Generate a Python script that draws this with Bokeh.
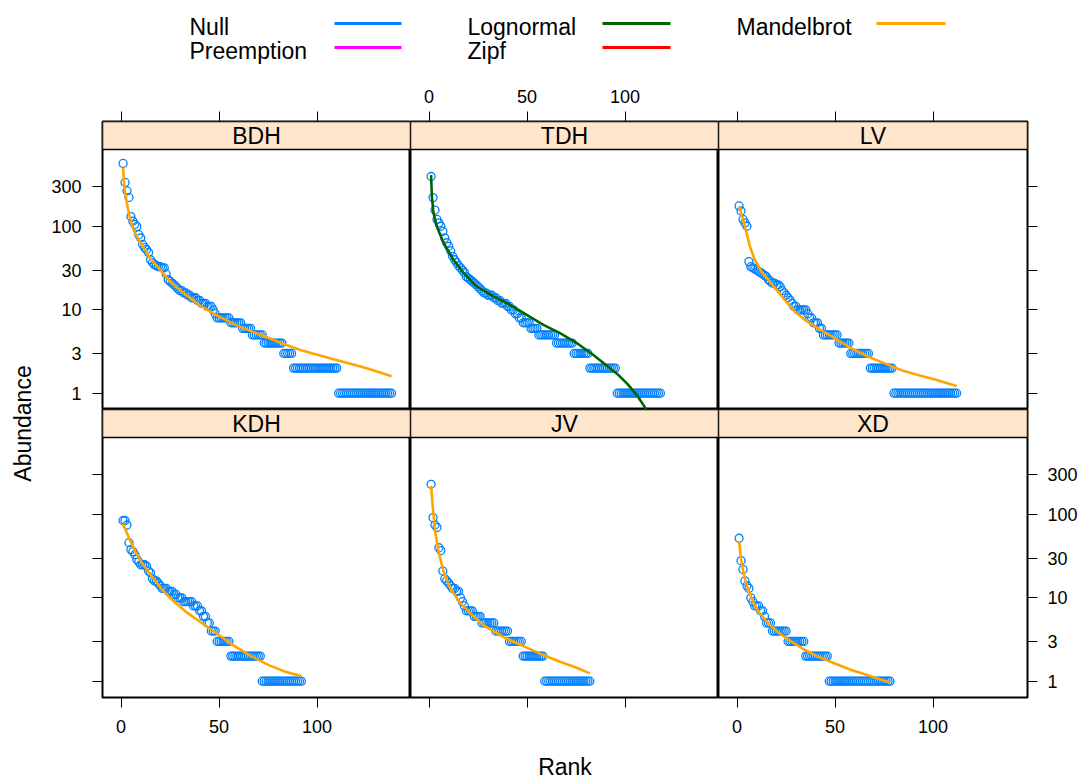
import numpy as np
from bokeh.plotting import figure
from bokeh.models import Range1d, LinearAxis, LogAxis, FixedTicker, BoxAnnotation, Label
from bokeh.layouts import row, column
from bokeh.embed import file_html
from bokeh.resources import INLINE
from bokeh.core.properties import value

# ---------------- data ----------------
panel_names = ["BDH", "TDH", "LV", "KDH", "JV", "XD"]
panel_best = ["Mandelbrot", "Lognormal", "Mandelbrot", "Mandelbrot", "Mandelbrot", "Mandelbrot"]

abund_BDH = [574, 339, 268, 224, 132, 116, 106, 100, 80, 73, 61, 56, 53, 49,
             40, 37, 35, 34, 33, 33, 32, 32,
             27, 23, 22, 21, 20, 19, 18, 17, 17, 16, 16, 15, 15, 14, 14, 14, 13, 13,
             12, 12, 12, 11, 11, 11, 10, 9,
             8, 8, 8, 8, 8, 8, 8, 7, 7, 7, 7, 7, 7, 6, 6, 6, 6, 6, 5, 5, 5, 5, 5, 5,
             4, 4, 4, 4, 4, 4, 4, 4, 4, 4, 3, 3, 3, 3, 3,
             2, 2, 2, 2, 2, 2, 2, 2, 2, 2, 2, 2, 2, 2, 2, 2, 2, 2, 2, 2, 2, 2, 2,
             1, 1, 1, 1, 1, 1, 1, 1, 1, 1, 1, 1, 1, 1, 1, 1, 1, 1, 1, 1, 1, 1, 1, 1,
             1, 1, 1, 1]
abund_TDH = [400, 223, 158, 122, 111, 101, 88, 73, 64, 58, 51, 44, 40, 37, 34, 32, 30, 28, 25, 24,
             23, 22, 21, 20, 19, 18, 17, 16, 16, 15, 15, 15, 14, 14, 13, 13, 12, 12, 12, 11, 11, 10, 10,
             9, 9, 8, 8, 7, 7, 7, 7, 6, 6, 6, 6,
             5, 5, 5, 5, 5, 5, 5, 5, 5, 4, 4, 4, 4, 4, 4, 4, 4, 4, 3, 3, 3, 3, 3, 3, 3, 3,
             2, 2, 2, 2, 2, 2, 2, 2, 2, 2, 2, 2, 2, 2,
             1, 1, 1, 1, 1, 1, 1, 1, 1, 1, 1, 1, 1, 1, 1, 1, 1, 1, 1, 1, 1, 1, 1]
abund_LV = [177, 154, 122, 111, 101,
            38, 33, 32, 31, 30, 29, 28, 27, 26, 25,
            23, 22, 21, 21, 20, 20, 19, 17, 16, 15, 14,
            13, 12, 11, 11, 10, 10, 10, 10, 10,
            9, 8, 8, 7, 7, 7, 6, 6,
            5, 5, 5, 5, 5, 5, 5, 5, 4, 4, 4, 4, 4, 4,
            3, 3, 3, 3, 3, 3, 3, 3, 3, 3,
            2, 2, 2, 2, 2, 2, 2, 2, 2, 2, 2, 2,
            1, 1, 1, 1, 1, 1, 1, 1, 1, 1, 1, 1, 1, 1, 1, 1, 1, 1, 1, 1, 1, 1, 1, 1,
            1, 1, 1, 1, 1, 1, 1, 1, 1]
abund_KDH = [85, 85, 75, 46, 38, 36, 33, 29, 27, 25, 25, 25, 24,
             21, 20, 17, 16, 16, 15, 14, 13, 13, 13, 12, 12, 12,
             11, 11, 10, 10, 10, 9, 9, 9, 9, 9, 8, 8, 8, 7,
             7, 6, 6, 5, 5, 4, 4, 4,
             3, 3, 3, 3, 3, 3, 3,
             2, 2, 2, 2, 2, 2, 2, 2, 2, 2, 2, 2, 2, 2, 2, 2,
             1, 1, 1, 1, 1, 1, 1, 1, 1, 1, 1, 1, 1, 1, 1, 1, 1, 1, 1, 1, 1]
abund_JV = [231, 92, 75, 70, 40, 37, 21, 17, 16, 15, 14, 13, 13, 12, 12,
            10, 9, 8, 7, 7, 7, 7, 6, 6, 6, 6,
            5, 5, 5, 5, 5, 5, 5, 4, 4, 4, 4, 4, 4, 4,
            3, 3, 3, 3, 3, 3, 3,
            2, 2, 2, 2, 2, 2, 2, 2, 2, 2, 2,
            1, 1, 1, 1, 1, 1, 1, 1, 1, 1, 1, 1, 1, 1, 1, 1, 1, 1, 1, 1, 1, 1, 1, 1]
abund_XD = [52, 28, 22, 16, 14, 13, 10, 9, 8, 8, 8, 7, 7, 6,
            5, 5, 5, 4, 4, 4, 4, 4, 4, 4, 4,
            3, 3, 3, 3, 3, 3, 3, 3, 3,
            2, 2, 2, 2, 2, 2, 2, 2, 2, 2, 2, 2,
            1, 1, 1, 1, 1, 1, 1, 1, 1, 1, 1, 1, 1, 1, 1, 1, 1, 1, 1, 1, 1, 1, 1, 1,
            1, 1, 1, 1, 1, 1, 1, 1]

# fitted (best model) curves, read at a set of ranks
fit_rank_BDH = [1, 1.6, 2.9, 4.3, 6.3, 8.9, 11.4, 14.8, 20, 25, 31.8, 40.4, 48.9, 57.3, 65.9,
                74.4, 82.9, 91.4, 108.4, 125.4, 138]
fit_val_BDH = [513, 308, 194, 134, 92, 70, 56, 42, 30, 22, 16, 11.2, 8.6, 6.8, 5.6,
               4.7, 3.9, 3.3, 2.55, 1.99, 1.6]
fit_rank_TDH = [1, 1.4, 2.2, 3.9, 7.3, 12.4, 17.5, 24.3, 32.8, 41.3, 49.8, 58.3, 66.8, 75.3,
                83.8, 92.3, 96.6, 100.9, 106, 110.2, 114, 118]
fit_val_TDH = [415, 233, 147, 101, 64, 40, 27.8, 19.1, 14.5, 11.5, 8.7, 6.6, 5.25, 4.0,
               2.87, 1.99, 1.65, 1.31, 0.95, 0.67, 0.48, 0.33]
fit_rank_LV = [1, 3.1, 4.8, 6.5, 9, 12.4, 15.8, 20.1, 24.3, 29.4, 34.5, 41.3, 49.8, 58.3,
               66.8, 75.3, 83.8, 92.3, 100.9, 112]
fit_val_LV = [174, 122, 84, 58, 40, 29, 23, 17.5, 13.2, 9.6, 7.6, 6.0, 4.57, 3.46,
              2.74, 2.28, 1.89, 1.65, 1.46, 1.22]
fit_rank_KDH = [1, 3.9, 7.3, 10.7, 15.8, 20.9, 26, 32.8, 41.3, 49.8, 58.3, 66.8, 75.3, 83.8, 92]
fit_val_KDH = [78, 53, 36, 26, 18, 12.5, 9.5, 6.9, 4.97, 3.59, 2.6, 1.97, 1.56, 1.3, 1.15]
fit_rank_JV = [1, 1.9, 3.1, 4.8, 7.3, 10.7, 15.8, 20.9, 27.7, 34.5, 41.3, 49.8, 58.3, 66.8, 75.3, 82]
fit_val_JV = [221, 120, 63, 36, 21, 13.1, 8.7, 6.6, 4.7, 3.76, 3.1, 2.53, 2.06, 1.71, 1.45, 1.24]
fit_rank_XD = [1, 1.9, 3.1, 4.8, 7.3, 10.7, 15.8, 20.9, 27.7, 34.5, 41.3, 49.8, 58.3, 66.8, 78]
fit_val_XD = [48, 30, 21, 14.4, 10, 6.9, 5.0, 3.87, 2.99, 2.37, 1.97, 1.63, 1.36, 1.18, 0.96]

abundances = [abund_BDH, abund_TDH, abund_LV, abund_KDH, abund_JV, abund_XD]
fit_ranks = [fit_rank_BDH, fit_rank_TDH, fit_rank_LV, fit_rank_KDH, fit_rank_JV, fit_rank_XD]
fit_vals = [fit_val_BDH, fit_val_TDH, fit_val_LV, fit_val_KDH, fit_val_JV, fit_val_XD]

model_names = ["Null", "Preemption", "Lognormal", "Zipf", "Mandelbrot"]
model_colors = ["#0080ff", "#ff00ff", "#006400", "#ff0000", "#ffa500"]

x_ticks = [0, 50, 100]
x_tick_labels = ["0", "50", "100"]
y_ticks = [1, 3, 10, 30, 100, 300]
y_tick_labels = ["1", "3", "10", "30", "100", "300"]

# ---------------- layout / style constants ----------------
FONT = "Liberation Sans"
BIG = "23px"
SMALL = "18px"
PX_PER_RANK = 1.96
X_LO = -9.5
LOG_LO, LOG_PANEL_HI = -0.196, 2.926
PANEL_H, STRIP_H = 260, 28
FRAME_H = PANEL_H + STRIP_H
LOG_TOP = LOG_LO + (LOG_PANEL_HI - LOG_LO) * FRAME_H / PANEL_H
FRAME_W = [308, 308, 309]
LEG_H = 72
LEFT_B, RIGHT_B, TOP_B, BOT_B = 62, 56, 121 - LEG_H, 45
YLAB_W, XLAB_H = 40, 39
STRIP_COL = "#ffe5cc"
POINT_COL = "#0080ff"


def make_axis(kind, labeled, standoff):
    if kind == "x":
        ax = LinearAxis(ticker=FixedTicker(ticks=x_ticks))
        ticks, labels = x_ticks, x_tick_labels
    else:
        ax = LogAxis(ticker=FixedTicker(ticks=y_ticks))
        ticks, labels = y_ticks, y_tick_labels
    ax.major_label_overrides = {t: (l if labeled else "") for t, l in zip(ticks, labels)}
    ax.axis_line_color = None
    ax.major_tick_line_color = "black"
    ax.major_tick_line_width = 1
    ax.major_tick_out = 10
    ax.major_tick_in = 0
    ax.minor_tick_line_color = None
    ax.major_label_text_font = FONT
    ax.major_label_text_font_size = SMALL
    ax.major_label_text_color = "black"
    ax.major_label_standoff = standoff
    return ax


def make_panel(idx):
    r, c = divmod(idx, 3)
    left, right, top = c == 0, c == 2, r == 0
    fw = FRAME_W[c]
    bl = LEFT_B if left else 0
    br = RIGHT_B if right else 0
    bt = TOP_B if top else 0
    bb = 0 if top else BOT_B
    x_hi = X_LO + fw / PX_PER_RANK
    p = figure(width=fw + bl + br, height=FRAME_H + bt + bb,
               x_range=Range1d(X_LO, x_hi),
               y_range=Range1d(10 ** LOG_LO, 10 ** LOG_TOP),
               y_axis_type="log", x_axis_location=None, y_axis_location=None,
               toolbar_location=None, output_backend="svg",
               min_border_left=bl, min_border_right=br, min_border_top=bt, min_border_bottom=bb,
               outline_line_color="black", outline_line_width=2,
               background_fill_color="white", border_fill_color="white")
    try:
        p.grid.visible = False
    except Exception:
        pass
    # axes (lattice style: alternate labelled sides)
    if left:
        p.add_layout(make_axis("y", labeled=top, standoff=11), "left")
    if right:
        p.add_layout(make_axis("y", labeled=not top, standoff=10), "right")
    if top:
        p.add_layout(make_axis("x", labeled=(c == 1), standoff=9), "above")
    else:
        p.add_layout(make_axis("x", labeled=(c != 1), standoff=12), "below")

    ab = abundances[idx]
    ranks = np.arange(1, len(ab) + 1)
    p.scatter(ranks, ab, marker="circle", size=8, fill_color=None,
              line_color=POINT_COL, line_width=1.3)
    col = model_colors[model_names.index(panel_best[idx])]
    p.line(fit_ranks[idx], fit_vals[idx], line_color=col, line_width=2.6)

    # strip
    p.add_layout(BoxAnnotation(bottom=10 ** LOG_PANEL_HI, fill_color=STRIP_COL, fill_alpha=1,
                               line_color="black", line_width=1.5, line_alpha=1))
    p.add_layout(Label(x=(X_LO + x_hi) / 2, y=10 ** ((LOG_PANEL_HI + LOG_TOP) / 2),
                       text=panel_names[idx], text_align="center", text_baseline="middle",
                       text_font=FONT, text_font_size=BIG, text_color="black"))
    return p


panels = [make_panel(i) for i in range(6)]


def blank(w, h):
    f = figure(width=w, height=h, x_range=Range1d(0, w), y_range=Range1d(0, h),
               x_axis_location=None, y_axis_location=None, toolbar_location=None,
               output_backend="svg", min_border=0, outline_line_color=None,
               background_fill_color="white", border_fill_color="white")
    try:
        f.grid.visible = False
    except Exception:
        pass
    return f


# legend (text on the left, line on the right, 3 columns)
leg = blank(1083, LEG_H)
leg_text_x = [189, 189, 467, 467, 736]
leg_text_y = [LEG_H - 26.5, LEG_H - 50, LEG_H - 26.5, LEG_H - 50, LEG_H - 26.5]
leg_line_x0 = [334, 334, 602, 602, 876]
leg_line_x1 = [401, 401, 670, 670, 945]
leg_line_y = [LEG_H - 23, LEG_H - 47, LEG_H - 23, LEG_H - 47, LEG_H - 23]
leg.text(x=leg_text_x, y=leg_text_y, text=model_names, text_font=value(FONT),
         text_font_size=BIG, text_baseline="middle", text_align="left", text_color="black")
leg.segment(x0=leg_line_x0, y0=leg_line_y, x1=leg_line_x1, y1=leg_line_y,
            line_color=model_colors, line_width=3)

# y label
grid_h = (FRAME_H + TOP_B) + (FRAME_H + BOT_B)
ylab = blank(YLAB_W, grid_h)
ylab.text(x=[22], y=[grid_h - (423 - LEG_H)], text=["Abundance"], angle=np.pi / 2,
          text_font=value(FONT), text_font_size=BIG, text_align="center",
          text_baseline="middle", text_color="black")

# x label
xlab = blank(1083, XLAB_H)
xlab.text(x=[564.5], y=[15], text=["Rank"], text_font=value(FONT),
          text_font_size=BIG, text_align="center", text_baseline="middle", text_color="black")

layout = column(leg,
                row(ylab, column(row(*panels[:3]), row(*panels[3:]))),
                xlab)

open("out.html", "w").write(file_html(layout, INLINE))
